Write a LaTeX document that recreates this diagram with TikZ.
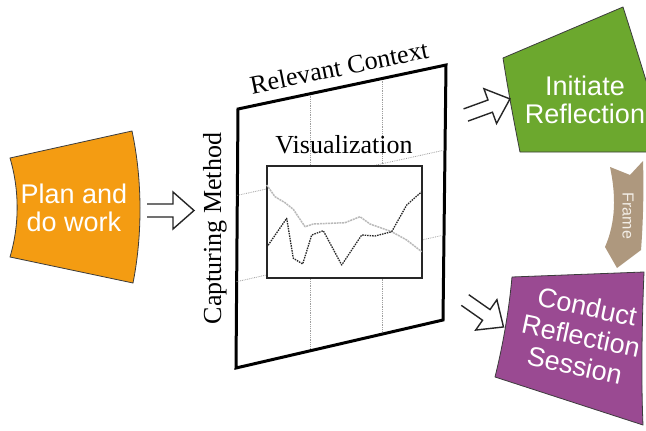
\documentclass[tikz,border=0pt]{standalone}
\usepackage{fontspec}
\newfontfamily\lsans{Liberation Sans}
\newfontfamily\lserif{Liberation Serif}
\usetikzlibrary{calc}
\definecolor{boxorange}{RGB}{244,156,18}
\definecolor{boxgreen}{RGB}{108,168,46}
\definecolor{boxpurple}{RGB}{154,74,146}
\definecolor{boxbrown}{RGB}{174,152,126}
\definecolor{edgegray}{RGB}{60,60,60}
\tikzset{
  colbox/.style={draw=edgegray, line width=0.8pt, line join=round},
  boxtext/.style={text=white, font=\lsans\fontsize{27}{28}\selectfont, align=center, inner sep=0pt},
  serlabel/.style={font=\lserif\fontsize{26}{28}\selectfont, inner sep=0pt},
  harrow/.style={draw=black!85, line width=1.4pt, line join=miter},
  griddot/.style={draw=gray!75, densely dotted, line width=0.8pt},
  curveA/.style={draw=gray!55, line width=1.5pt, dash pattern=on 2pt off 0.8pt, line join=round},
  curveB/.style={draw=gray!30!black, line width=1.3pt, dash pattern=on 1.5pt off 1pt, line join=round},
}
\newcommand\hollowarrow[2]{% #1 tail coordinate, #2 angle
  \draw[harrow, shift={(#1)}, rotate=#2] (0,-6.5) -- (26,-6.5) -- (26,-18.5) -- (47,0) -- (26,18.5) -- (26,6.5) -- (0,6.5);}
\begin{document}
\begin{tikzpicture}[x=1pt,y=-1pt]
\useasboundingbox (0,0) rectangle (646,431);
\clip (0,0) rectangle (646,431);
\fill[white] (0,0) rectangle (646,431);

% ---- orange box
\path[colbox, fill=boxorange] (10,158) -- (132,131) .. controls (142.5,180) and (142.5,235) .. (133,283)
  -- (10,257) .. controls (19.5,225) and (19.5,190) .. (10,158) -- cycle;
\node[boxtext] (plan) at (74,208) {Plan and\\do work};

% ---- green box
\path[colbox, fill=boxgreen] (503,58) -- (623,7) .. controls (640,60) and (655,110) .. (668,152)
  -- (520,152) .. controls (514,122) and (508,90) .. (503,58) -- cycle;
\node[boxtext] (initiate) at (585,100) {Initiate\\Reflection};

% ---- purple box
\path[colbox, fill=boxpurple] (512,277) -- (644,272) .. controls (642,320) and (641,380) .. (643,425)
  -- (495,377) .. controls (503,345) and (509,310) .. (512,277) -- cycle;
\node[boxtext, rotate=-12, font=\lsans\fontsize{27}{30}\selectfont] (conduct) at (581,336) {Conduct\\Reflection\\Session};

% ---- brown frame chevron
\path[fill=boxbrown] (610,167) -- (630,175) -- (643,161) .. controls (644,190) and (643,225) .. (641,250)
  -- (617,268) -- (605,247) .. controls (616,222) and (616,195) .. (610,167) -- cycle;
\node[text={rgb,255:red,242;green,237;blue,230}, font=\lsans\fontsize{16}{18}\selectfont, rotate=-90, inner sep=0pt] (frametext) at (628,216) {Frame};

% ---- parallelogram frame
\coordinate (TL) at (238,109);
\coordinate (TR) at (446,65);
\coordinate (BR) at (443,320);
\coordinate (BL) at (236,368);
\draw[fill=white, line width=3pt, line join=miter] (TL) -- (TR) -- (BR) -- (BL) -- cycle;
\draw[griddot] ($(TL)!1/3!(BL)$) -- ($(TR)!1/3!(BR)$);
\draw[griddot] ($(TL)!2/3!(BL)$) -- ($(TR)!2/3!(BR)$);
\draw[griddot] (310,95.5) -- (310,349);
\draw[griddot] (382,80.5) -- (382,332.5);

% inner chart
\draw[fill=white, draw=black!85, line width=1.5pt] (267,166) rectangle (422,278);
\draw[curveA] (266.7,185) -- (275,196.7) -- (285,202.7) -- (293.3,209.3) -- (305,226.7) -- (313.3,224)
  -- (345,222.7) -- (360,216.7) -- (370,224) -- (391.7,231.7) -- (406.7,240) -- (421.7,251.7);
\draw[curveB] (266.7,247.3) -- (286.7,218.3) -- (293.3,258.3) -- (302.7,264) -- (311.7,235) -- (323.3,230.7)
  -- (341.7,265) -- (361.7,235) -- (375,236) -- (391.7,231.7) -- (406.7,205) -- (421.7,191.7);

% labels
\node[serlabel, rotate=11.5, anchor=base] (rc) at (341,76) {Relevant Context};
\node[serlabel, anchor=base] (vis) at (344,153) {Visualization};
\node[serlabel, rotate=90, anchor=base] (cm) at (221,228.5) {Capturing Method};

% ---- hollow arrows
\coordinate (a1) at (147,210.5);
\coordinate (a2) at (465.8,115);
\coordinate (a3) at (465,300);
\hollowarrow{a1}{0}
\hollowarrow{a2}{20}
\hollowarrow{a3}{-35}
\end{tikzpicture}
\end{document}
